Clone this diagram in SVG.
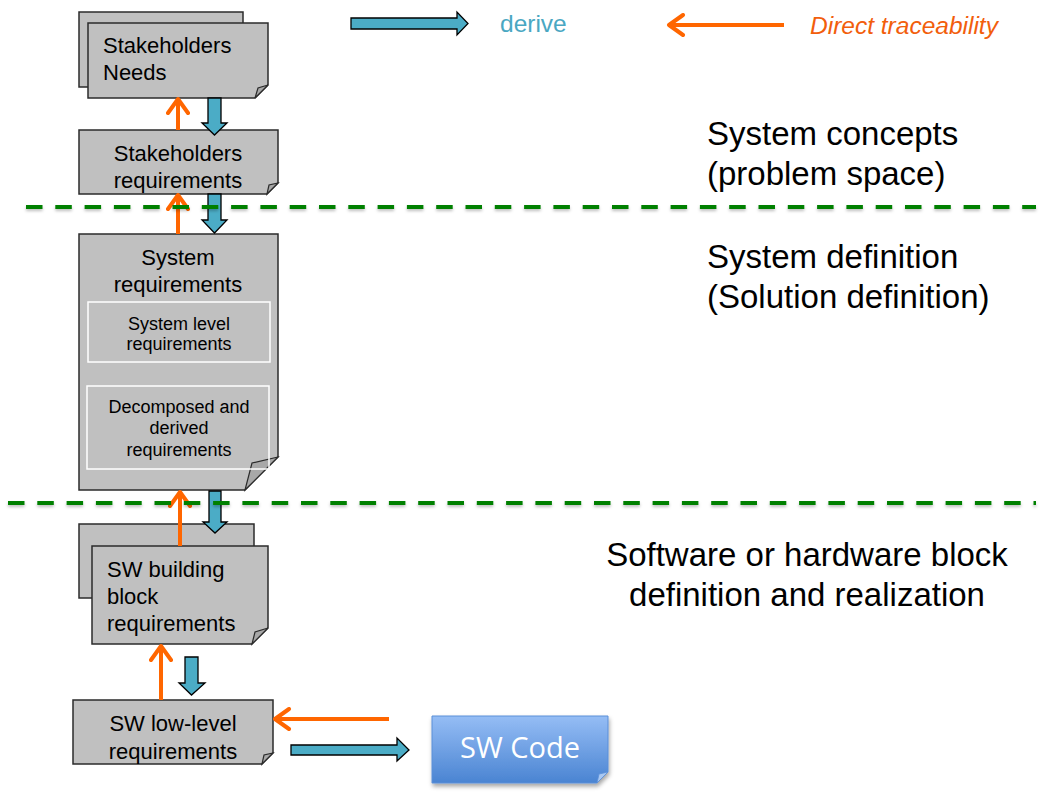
<svg xmlns="http://www.w3.org/2000/svg" width="1040" height="795" viewBox="0 0 1040 795">
<defs>
<style>
.page{fill:#c0c0c0;stroke:#2b2b2b;stroke-width:1.5}
.fold{fill:#a8a8a8;stroke:#2b2b2b;stroke-width:1.2}
.inner{fill:none;stroke:#ffffff;stroke-width:1.5}
.t{font-family:"Liberation Sans",Arial,sans-serif;font-size:22px;fill:#000}
.ts{font-family:"Liberation Sans",Arial,sans-serif;font-size:18px;fill:#000}
.big{font-family:"Liberation Sans",Arial,sans-serif;font-size:33px;fill:#000}
.derive{fill:#4bacc6;stroke:#000;stroke-width:1.3;stroke-linejoin:miter}
.trace{stroke:#ff6600;stroke-width:4;fill:none;marker-end:url(#chev)}
.sep{stroke:#008000;stroke-width:4;stroke-dasharray:16.5 12.8;fill:none}
</style>
<marker id="chev" viewBox="0 0 20 24" refX="17" refY="12" markerWidth="20" markerHeight="24" markerUnits="userSpaceOnUse" orient="auto">
<path d="M3,2 L17,12 L3,22" fill="none" stroke="#ff6600" stroke-width="4" stroke-linecap="round" stroke-linejoin="round"/>
</marker>
<linearGradient id="code" x1="0" y1="0" x2="0" y2="1">
<stop offset="0" stop-color="#95bdf5"/>
<stop offset="1" stop-color="#4a84d2"/>
</linearGradient>
<filter id="sh" x="-20%" y="-20%" width="140%" height="160%">
<feDropShadow dx="1" dy="3" stdDeviation="2" flood-color="#000" flood-opacity="0.35"/>
</filter>
<filter id="lsh" x="-5%" y="-200%" width="110%" height="500%">
<feDropShadow dx="0" dy="2" stdDeviation="1.5" flood-color="#000" flood-opacity="0.25"/>
</filter>
</defs>

<g id="legend">
<polygon class="derive" points="351,18 457,18 457,12 468,23.5 457,35 457,29 351,29"/>
<text x="500" y="32" font-family="Liberation Sans, Arial, sans-serif" font-size="24.5" fill="#4aa7c2">derive</text>
<line class="trace" x1="784" y1="25" x2="669" y2="25"/>
<text x="810" y="34" font-family="Liberation Sans, Arial, sans-serif" font-size="24.5" font-style="italic" fill="#f25e0c">Direct traceability</text>
</g>

<g id="stakeholders-needs">
<rect class="page" x="79" y="12" width="164" height="75"/>
<path class="page" d="M88,23 H268 V85 L255,98 H88 Z"/>
<path class="fold" d="M255,98 L258,88 L268,85 Z"/>
<text class="t" x="103" y="53">Stakeholders</text>
<text class="t" x="103" y="80">Needs</text>
</g>

<g id="stakeholders-requirements">
<path class="page" d="M79,130 H278 V183 L267,194 H79 Z"/>
<path class="fold" d="M267,194 L269,185 L278,183 Z"/>
<text class="t" x="178" y="161" text-anchor="middle">Stakeholders</text>
<text class="t" x="178" y="188" text-anchor="middle">requirements</text>
</g>

<g id="system-requirements">
<path class="page" d="M79,234 H278 V457 L245,490 H79 Z"/>
<path class="fold" d="M245,490 L252,463 L278,457 Z"/>
<text class="t" x="178" y="265" text-anchor="middle">System</text>
<text class="t" x="178" y="292" text-anchor="middle">requirements</text>
<rect class="inner" x="88" y="302" width="182" height="60"/>
<text class="ts" x="179" y="330" text-anchor="middle">System level</text>
<text class="ts" x="179" y="350" text-anchor="middle">requirements</text>
<rect class="inner" x="87" y="386" width="182" height="83"/>
<text class="ts" x="179" y="413" text-anchor="middle">Decomposed and</text>
<text class="ts" x="179" y="434" text-anchor="middle">derived</text>
<text class="ts" x="179" y="456" text-anchor="middle">requirements</text>
</g>

<g id="sw-building-block">
<rect class="page" x="79" y="524" width="175" height="74"/>
<path class="page" d="M92,546 H268 V628 L252,644 H92 Z"/>
<path class="fold" d="M252,644 L255,632 L268,628 Z"/>
<text class="t" x="107" y="577" font-size="22.5">SW building</text>
<text class="t" x="107" y="604" font-size="22.5">block</text>
<text class="t" x="107" y="631" font-size="22.5">requirements</text>
</g>

<g id="sw-low-level">
<path class="page" d="M73,700 H273 V753 L262,764 H73 Z"/>
<path class="fold" d="M262,764 L264,755 L273,753 Z"/>
<text class="t" x="173" y="731" text-anchor="middle">SW low-level</text>
<text class="t" x="173" y="759" text-anchor="middle">requirements</text>
</g>

<g id="sw-code">
<path d="M432,716 H608 V772 L597,783 H432 Z" fill="url(#code)" stroke="#5b8fd8" stroke-width="1" filter="url(#sh)"/>
<path d="M597,783 L599,774 L608,772 Z" fill="#a9c8f2" stroke="#5b8fd8" stroke-width="0.8"/>
<text x="520" y="758" text-anchor="middle" font-family="Open Sans, Liberation Sans, sans-serif" font-size="29" fill="#ffffff">SW Code</text>
</g>

<g id="connectors">
<polygon class="derive" points="208,98 221,98 221,123 227,123 214.5,135 202,123 208,123"/>
<polygon class="derive" points="208,194 221,194 221,220 227,220 214.5,233 202,220 208,220"/>
<polygon class="derive" points="209,491 221,491 221,522 227,522 215,533 203,522 209,522"/>
<polygon class="derive" points="185,657 198,657 198,683 205,683 191.5,695 179,683 185,683"/>
<polygon class="derive" points="291,745 397,745 397,738 409,750 397,761 397,755 291,755"/>
<line class="trace" x1="178" y1="130" x2="178" y2="99"/>
<line class="trace" x1="178" y1="234" x2="178" y2="195"/>
<line class="trace" x1="180" y1="546" x2="180" y2="492"/>
<line class="trace" x1="161" y1="700" x2="161" y2="646"/>
<line class="trace" x1="389" y1="719" x2="275" y2="719"/>
</g>

<g id="separators" filter="url(#lsh)">
<line class="sep" x1="26" y1="207" x2="1036" y2="207"/>
<line class="sep" x1="8" y1="503" x2="1036" y2="503"/>
</g>

<g id="region-labels">
<text class="big" x="707" y="145">System concepts</text>
<text class="big" x="707" y="185">(problem space)</text>
<text class="big" x="707" y="268">System definition</text>
<text class="big" x="707" y="308">(Solution definition)</text>
<text class="big" x="807" y="566" text-anchor="middle">Software or hardware block</text>
<text class="big" x="807" y="606" text-anchor="middle">definition and realization</text>
</g>
</svg>
